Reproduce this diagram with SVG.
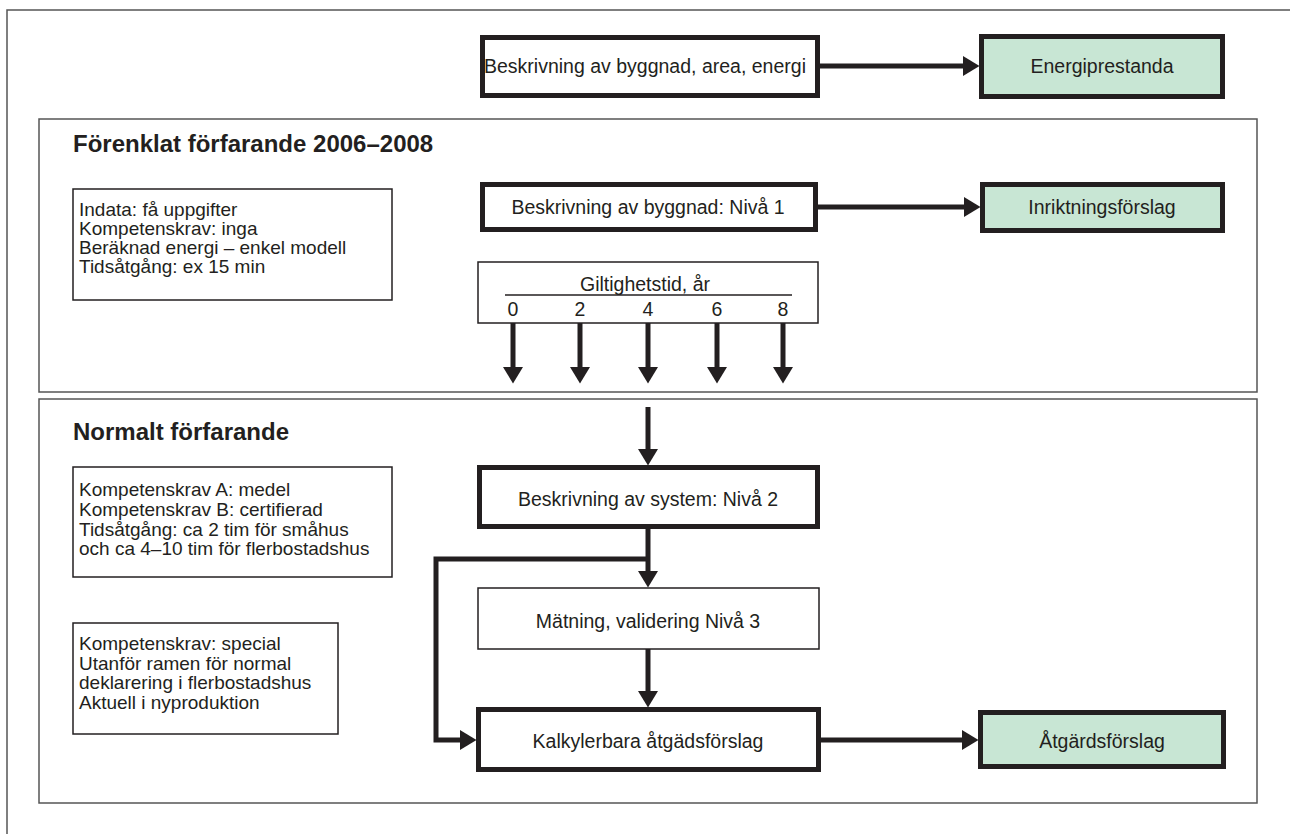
<svg xmlns="http://www.w3.org/2000/svg" width="1290" height="834" viewBox="0 0 1290 834">
<style>
text{font-family:"Liberation Sans",Arial,sans-serif;fill:#231f20;font-size:19px}
.c{text-anchor:middle;font-size:19.5px}
.t{font-weight:bold;font-size:24px}
.bold{fill:#fff;stroke:#231f20;stroke-width:5}
.green{fill:#c8e6d4;stroke:#231f20;stroke-width:5}
.thin{fill:#fff;stroke:#231f20;stroke-width:1.5}
.sec{fill:none;stroke:#555;stroke-width:1.5}
.con{fill:none;stroke:#231f20;stroke-width:5}
</style>
<defs>
<marker id="ah" markerUnits="userSpaceOnUse" markerWidth="17" markerHeight="22" refX="0" refY="10" orient="auto" viewBox="0 0 17 20">
<path d="M0,0 L16.5,10 L0,20 z" fill="#231f20"/>
</marker>
</defs>
<rect width="1290" height="834" fill="#fff"/>
<path d="M7,834 V10 H1290" class="sec"/>
<g id="section1">
<rect x="39" y="119" width="1218" height="273" class="sec"/>
<text x="73" y="152" class="t">Förenklat förfarande 2006–2008</text>
</g>
<g id="section2">
<rect x="39" y="399" width="1218" height="404" class="sec"/>
<text x="73" y="440" class="t">Normalt förfarande</text>
</g>
<g id="connectors">
<path d="M820,66 H963" class="con" marker-end="url(#ah)"/>
<path d="M818,207 H964" class="con" marker-end="url(#ah)"/>
<path d="M513,323 V367" class="con" marker-end="url(#ah)"/>
<path d="M580,323 V367" class="con" marker-end="url(#ah)"/>
<path d="M648,323 V367" class="con" marker-end="url(#ah)"/>
<path d="M717,323 V367" class="con" marker-end="url(#ah)"/>
<path d="M783,323 V367" class="con" marker-end="url(#ah)"/>
<path d="M648,407 V449" class="con" marker-end="url(#ah)"/>
<path d="M648,529 V571" class="con" marker-end="url(#ah)"/>
<path d="M648,559 H436 V740 H460" class="con" marker-end="url(#ah)"/>
<path d="M648,649 V691" class="con" marker-end="url(#ah)"/>
<path d="M821,740 H962" class="con" marker-end="url(#ah)"/>
</g>
<g id="n-top">
<rect x="482.5" y="37.5" width="335" height="58" class="bold"/>
<text x="645" y="73" class="c">Beskrivning av byggnad, area, energi</text>
</g>
<g id="n-energi">
<rect x="981.5" y="36.5" width="241" height="60" class="green"/>
<text x="1102" y="73" class="c">Energiprestanda</text>
</g>
<g id="n-niva1">
<rect x="482.5" y="184.5" width="333" height="45" class="bold"/>
<text x="648" y="214" class="c">Beskrivning av byggnad: Nivå 1</text>
</g>
<g id="n-inrikt">
<rect x="982.5" y="184.5" width="240" height="46" class="green"/>
<text x="1102" y="214" class="c">Inriktningsförslag</text>
</g>
<g id="n-giltighet">
<rect x="478" y="262" width="340" height="61" class="thin"/>
<text x="645" y="291" class="c">Giltighetstid, år</text>
<line x1="505" y1="295" x2="792" y2="295" stroke="#231f20" stroke-width="1.3"/>
<text x="513" y="316" class="c">0</text>
<text x="580" y="316" class="c">2</text>
<text x="648" y="316" class="c">4</text>
<text x="717" y="316" class="c">6</text>
<text x="783" y="316" class="c">8</text>
</g>
<g id="n-info1">
<rect x="73" y="189" width="319" height="111" class="thin"/>
<text x="79" y="216">Indata: få uppgifter</text>
<text x="79" y="235">Kompetenskrav: inga</text>
<text x="79" y="254">Beräknad energi – enkel modell</text>
<text x="79" y="273">Tidsåtgång: ex 15 min</text>
</g>
<g id="n-info2">
<rect x="73" y="467" width="319" height="110" class="thin"/>
<text x="79" y="496">Kompetenskrav A: medel</text>
<text x="79" y="516">Kompetenskrav B: certifierad</text>
<text x="79" y="536">Tidsåtgång: ca 2 tim för småhus</text>
<text x="79" y="555">och ca 4–10 tim för flerbostadshus</text>
</g>
<g id="n-info3">
<rect x="73" y="623" width="265" height="111" class="thin"/>
<text x="79" y="650">Kompetenskrav: special</text>
<text x="79" y="670">Utanför ramen för normal</text>
<text x="79" y="689">deklarering i flerbostadshus</text>
<text x="79" y="709">Aktuell i nyproduktion</text>
</g>
<g id="n-niva2">
<rect x="479.5" y="467.5" width="338" height="59" class="bold"/>
<text x="648" y="506" class="c">Beskrivning av system: Nivå 2</text>
</g>
<g id="n-matning">
<rect x="478" y="588" width="341" height="61" class="thin"/>
<text x="648" y="628" class="c">Mätning, validering Nivå 3</text>
</g>
<g id="n-kalkyl">
<rect x="478.5" y="709.5" width="340" height="60" class="bold"/>
<text x="648" y="748" class="c">Kalkylerbara åtgädsförslag</text>
</g>
<g id="n-atgard">
<rect x="980.5" y="712.5" width="243" height="54" class="green"/>
<text x="1102" y="748" class="c">Åtgärdsförslag</text>
</g>
</svg>
